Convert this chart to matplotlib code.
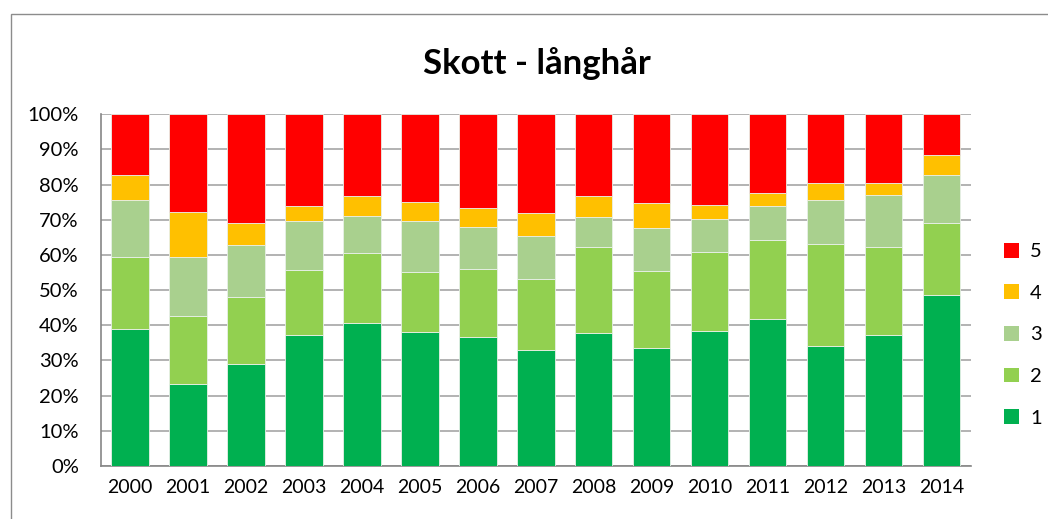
import matplotlib.pyplot as plt
import numpy as np
from matplotlib.patches import Rectangle, Patch

plt.rcParams['font.family'] = ['Lato', 'DejaVu Sans']

# data (percent per grade, bottom to top)
years = [str(y) for y in range(2000, 2015)]
grade1 = [39.0, 23.3, 29.1, 37.1, 40.5, 38.2, 36.6, 33.1, 37.9, 33.6, 38.5, 41.9, 34.1, 37.3, 48.7]
grade2 = [20.5, 19.4, 18.9, 18.5, 19.9, 17.0, 19.5, 20.1, 24.2, 21.7, 22.4, 22.3, 29.1, 24.9, 20.5]
grade3 = [16.0, 16.6, 14.7, 14.0, 10.7, 14.4, 11.9, 12.3, 8.7, 12.2, 9.2, 9.6, 12.5, 14.8, 13.5]
grade4 = [7.3, 12.9, 6.5, 4.3, 5.5, 5.3, 5.3, 6.4, 5.8, 7.3, 4.1, 3.9, 4.7, 3.5, 5.7]
grade5 = [17.2, 27.8, 30.8, 26.1, 23.4, 25.1, 26.7, 28.1, 23.4, 25.2, 25.8, 22.3, 19.6, 19.5, 11.6]
labels = ["1", "2", "3", "4", "5"]
colors = ["#00B050", "#92D050", "#A9D08E", "#FFC000", "#FF0000"]

fig = plt.figure(figsize=(10.48, 5.19), dpi=100)
ax = fig.add_axes([0.0964, 0.1021, 0.830, 0.678])

# chart border like excel
fig.patches.append(Rectangle((11 / 1048, -0.01), 1.02, 1 - 14 / 519 + 0.01, transform=fig.transFigure,
                             fill=False, edgecolor="#8c8c8c", linewidth=1))

x = np.arange(len(years))
bottom = np.zeros(len(years))
for vals, lab, col in zip([grade1, grade2, grade3, grade4, grade5], labels, colors):
    ax.bar(x, vals, bottom=bottom, width=0.64, color=col, edgecolor="#e8f0e8", linewidth=0.6, label=lab, zorder=3)
    bottom += np.array(vals)

ax.set_xlim(-0.5, 14.5)
ax.set_ylim(0, 100)
ax.set_yticks(range(0, 101, 10))
ax.set_yticklabels([f"{v}%" for v in range(0, 101, 10)], fontsize=14.5)
ax.set_xticks(x)
ax.set_xticklabels(years, fontsize=14)
ax.yaxis.grid(True, color="#a6a6a6", linewidth=1.2, zorder=0)
ax.set_axisbelow(True)
for s in ["top", "right"]:
    ax.spines[s].set_visible(False)
ax.spines["left"].set_color("#868686")
ax.spines["bottom"].set_color("#868686")
ax.spines["left"].set_linewidth(1.2)
ax.spines["bottom"].set_linewidth(1.2)
ax.tick_params(axis="x", length=0, pad=9)
ax.tick_params(axis="y", length=0, pad=16)

fig.text(0.512, 0.878, "Skott - långhår", ha="center", va="center", fontsize=25, fontweight="bold")

handles = [Patch(facecolor=c) for c in colors][::-1]
fig.legend(handles, labels[::-1], loc="center left", bbox_to_anchor=(0.958, 0.355), frameon=False,
           borderpad=0, borderaxespad=0, fontsize=14.5, handlelength=0.75, handleheight=0.75,
           labelspacing=1.2, handletextpad=0.55)

fig.savefig("out.png", dpi=100)
